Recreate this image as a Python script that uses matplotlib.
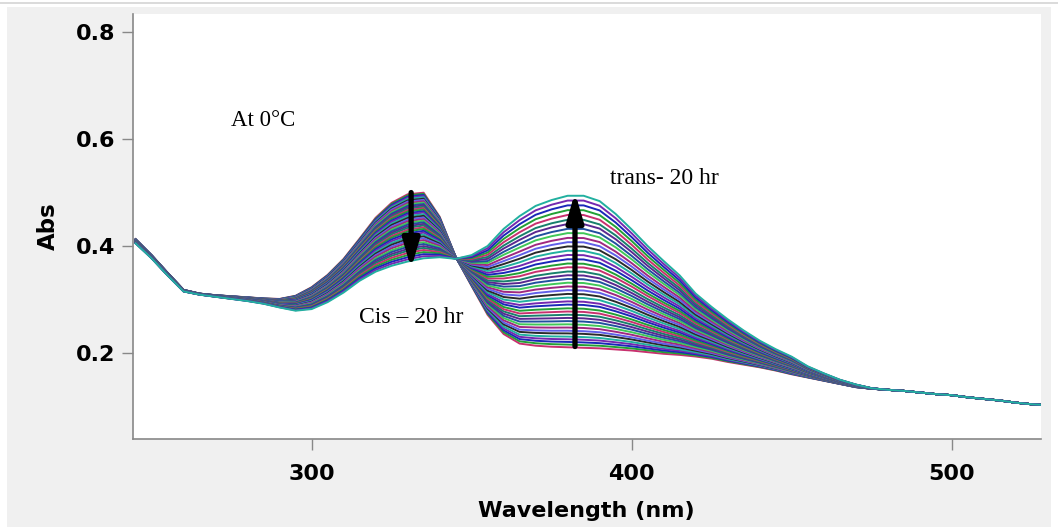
import numpy as np
import matplotlib
matplotlib.use("Agg")
import matplotlib.pyplot as plt
from matplotlib.patches import Rectangle
from matplotlib.lines import Line2D

# ---------------- data ----------------
wavelength_nm = [245, 250, 255, 260, 265, 270, 275, 280, 285, 290, 295, 300, 305, 310,
                 315, 320, 325, 330, 335, 340, 345, 350, 355, 360, 365, 370, 375, 380,
                 385, 390, 395, 400, 405, 410, 415, 420, 425, 430, 435, 440, 445, 450,
                 455, 460, 465, 470, 475, 480, 485, 490, 495, 500, 505, 510, 515, 520,
                 525, 528]

# first scan (cis-rich, t = 0)
abs_start = [0.413, 0.383, 0.350, 0.318, 0.311, 0.308, 0.306, 0.304, 0.302, 0.301, 0.307,
             0.323, 0.346, 0.376, 0.414, 0.453, 0.481, 0.497, 0.500, 0.455, 0.380, 0.325,
             0.271, 0.235, 0.217, 0.213, 0.211, 0.210, 0.209, 0.208, 0.206, 0.204, 0.201,
             0.198, 0.196, 0.193, 0.189, 0.183, 0.178, 0.173, 0.167, 0.160, 0.154, 0.148,
             0.142, 0.136, 0.133, 0.131, 0.129, 0.126, 0.123, 0.121, 0.117, 0.114, 0.111,
             0.107, 0.104, 0.103]

# last scan (trans-rich, 20 hr)
abs_end = [0.405, 0.377, 0.345, 0.315, 0.309, 0.305, 0.301, 0.297, 0.292, 0.285, 0.279,
           0.282, 0.295, 0.313, 0.335, 0.352, 0.363, 0.371, 0.377, 0.379, 0.376, 0.383,
           0.400, 0.432, 0.456, 0.475, 0.486, 0.494, 0.494, 0.484, 0.460, 0.431, 0.400,
           0.372, 0.345, 0.311, 0.286, 0.263, 0.242, 0.223, 0.207, 0.193, 0.175, 0.162,
           0.150, 0.141, 0.134, 0.131, 0.129, 0.126, 0.123, 0.121, 0.117, 0.114, 0.111,
           0.107, 0.104, 0.103]

# absorbance of each successive scan read at 383 nm (0 -> 20 hr)
scan_abs_383 = [0.210, 0.215, 0.220, 0.225, 0.230, 0.236, 0.241, 0.247, 0.253, 0.259,
                0.265, 0.271, 0.277, 0.283, 0.290, 0.296, 0.303, 0.310, 0.317, 0.324,
                0.331, 0.338, 0.345, 0.352, 0.360, 0.367, 0.375, 0.383, 0.391, 0.399,
                0.407, 0.415, 0.424, 0.432, 0.441, 0.449, 0.458, 0.467, 0.476, 0.485,
                0.494]

x_ticks = [300, 400, 500]
y_ticks = [0.2, 0.4, 0.6, 0.8]

trace_colors = ['#c8306e', '#22a035', '#1a28b8', '#7428b0', '#22b0a0', '#2a2a2a',
                '#6060e8', '#a02880', '#40c858', '#20509e', '#5a2890', '#18806c']

# ---------------- figure ----------------
W, H = 1058, 527
fig = plt.figure(figsize=(W / 100, H / 100), dpi=100, facecolor='white')
fig.patches.append(Rectangle((7 / W, 0), (1051 - 7) / W, (H - 7) / H,
                             transform=fig.transFigure, facecolor='#f0f0f0',
                             edgecolor='none', zorder=-10))
fig.lines.append(Line2D([0, 1], [1 - 2.5 / H, 1 - 2.5 / H], transform=fig.transFigure,
                        color='#d4d4d4', lw=1.2))

ax_l, ax_r, ax_t, ax_b = 133, 1041, 14, 439
ax = fig.add_axes([ax_l / W, 1 - ax_b / H, (ax_r - ax_l) / W, (ax_b - ax_t) / H])
ax.set_facecolor('white')

wl = np.array(wavelength_nm)
a0 = np.array(abs_start)
a1 = np.array(abs_end)
a0_383 = np.interp(383, wl, a0)
a1_383 = np.interp(383, wl, a1)

for i, v in enumerate(scan_abs_383):
    f = (v - a0_383) / (a1_383 - a0_383)
    spec = a0 + f * (a1 - a0)
    ax.plot(wl, spec, color=trace_colors[i % len(trace_colors)], lw=1.4,
            solid_joinstyle='round')

ax.set_xlim(244.2, 527.9)
ax.set_ylim(0.039, 0.834)
ax.set_xticks(x_ticks)
ax.set_yticks(y_ticks)
ax.set_xticklabels([str(t) for t in x_ticks])
ax.set_yticklabels([f"{t:.1f}" for t in y_ticks])

for s in ['top', 'right']:
    ax.spines[s].set_visible(False)
for s in ['left', 'bottom']:
    ax.spines[s].set_color('#888888')
    ax.spines[s].set_linewidth(1.2)

ax.tick_params(axis='both', direction='out', length=8, width=1, color='#888888',
               labelsize=16, labelcolor='black')
ax.tick_params(axis='x', pad=10)
ax.tick_params(axis='y', pad=5)
for lab in ax.get_xticklabels() + ax.get_yticklabels():
    lab.set_fontweight('bold')
    lab.set_family('DejaVu Sans')

ax.set_xlabel('Wavelength (nm)', fontsize=16, fontweight='bold', family='DejaVu Sans',
              va='center')
ax.xaxis.set_label_coords((586 - ax_l) / (ax_r - ax_l), (ax_b - 511) / (ax_b - ax_t))
ax.set_ylabel('Abs', fontsize=16.5, fontweight='bold', family='DejaVu Sans', va='center')
ax.yaxis.set_label_coords((48 - ax_l) / (ax_r - ax_l), (ax_b - 226) / (ax_b - ax_t))

# arrows
arrow_kw = dict(arrowstyle='-|>,head_length=0.85,head_width=0.25', lw=3.8,
                color='black', mutation_scale=20, shrinkA=0, shrinkB=0)
ax.annotate('', xy=(331.1, 0.358), xytext=(331.1, 0.500), arrowprops=arrow_kw)
ax.annotate('', xy=(382.3, 0.500), xytext=(382.3, 0.212), arrowprops=arrow_kw)

serif = ['Liberation Serif', 'DejaVu Serif']
ax.text(284.9, 0.635, 'At 0°C', fontsize=16.5, family=serif, ha='center', va='center')
ax.text(410.2, 0.527, 'trans- 20 hr', fontsize=17, family=serif, ha='center', va='center')
ax.text(331.1, 0.267, 'Cis – 20 hr', fontsize=17, family=serif, ha='center', va='center')

fig.savefig('out.png', dpi=100, facecolor=fig.get_facecolor())
